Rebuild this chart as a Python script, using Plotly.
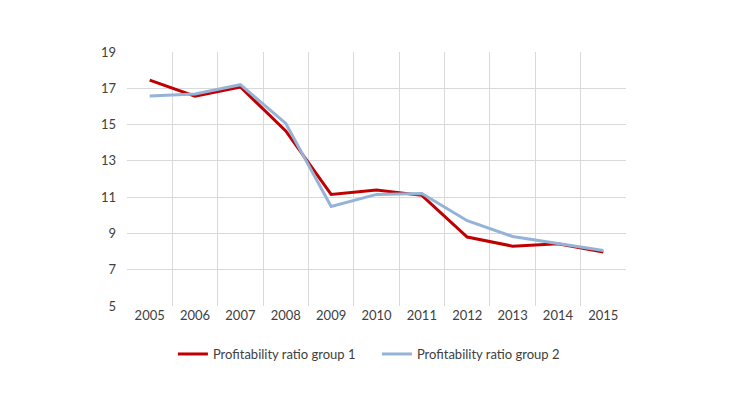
import plotly.graph_objects as go

years = [2005, 2006, 2007, 2008, 2009, 2010, 2011, 2012, 2013, 2014, 2015]
group1 = [17.45, 16.57, 17.07, 14.65, 11.15, 11.4, 11.1, 8.8, 8.3, 8.43, 7.97]
group2 = [16.58, 16.68, 17.2, 15.06, 10.49, 11.15, 11.2, 9.7, 8.83, 8.43, 8.06]
y_ticks = [5, 7, 9, 11, 13, 15, 17, 19]
y_grid = [7, 9, 11, 13, 15, 17]
x_grid = [y + 0.5 for y in years[:-1]]

names = ["Profitability ratio group 1", "Profitability ratio group 2"]
colors = ["#C00000", "#95B3D7"]

fig = go.Figure()
# invisible trace to activate the grid axes
fig.add_trace(go.Scatter(x=[years[0]], y=[y_ticks[0]], xaxis="x2", yaxis="y2",
                         mode="markers", marker=dict(opacity=0), showlegend=False,
                         hoverinfo="skip"))
for vals, name, col in zip([group1, group2], names, colors):
    fig.add_trace(go.Scatter(x=years, y=vals, mode="lines", name=name,
                             line=dict(color=col, width=3)))

font = "Lato, 'Open Sans', sans-serif"
fig.update_layout(
    width=730, height=410,
    margin=dict(l=119, r=112, t=44, b=112),
    paper_bgcolor="white", plot_bgcolor="white",
    font=dict(family=font, size=13, color="#404040"),
    showlegend=True,
    legend=dict(orientation="h", x=0.092, xanchor="left", y=-0.13, yanchor="top",
                font=dict(size=13, color="#404040"), itemwidth=30,
                entrywidth=159, traceorder="normal"),
    xaxis=dict(range=[2004.5, 2015.5], tickvals=years, ticktext=[str(y) for y in years],
               showgrid=False, zeroline=False, showline=False, ticks="",
               tickfont=dict(size=13, color="#404040")),
    xaxis2=dict(range=[2004.5, 2015.5], overlaying="x", tickvals=x_grid,
                showgrid=True, gridcolor="#D9D9D9", gridwidth=1,
                showticklabels=False, zeroline=False, ticks=""),
    yaxis=dict(range=[5, 19], tickvals=y_ticks, showgrid=False, zeroline=False,
               showline=False, ticks="", ticklabelstandoff=10,
               tickfont=dict(size=13, color="#404040")),
    yaxis2=dict(range=[5, 19], overlaying="y", tickvals=y_grid, showgrid=True,
                gridcolor="#D9D9D9", gridwidth=1, showticklabels=False,
                zeroline=False, ticks=""),
)
fig.write_html("out.html")
